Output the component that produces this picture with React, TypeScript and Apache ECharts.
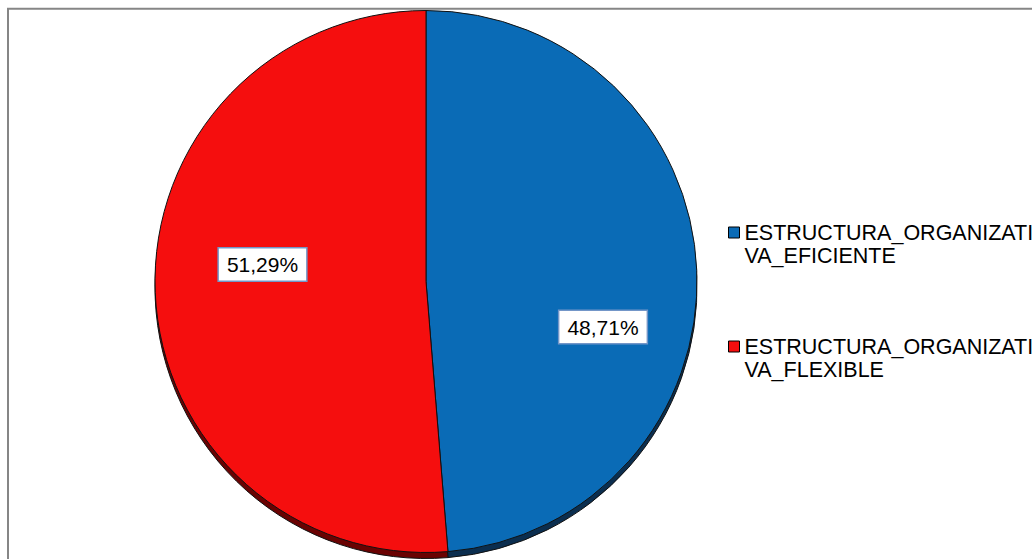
import React, { useEffect, useRef } from "react";
import * as echarts from "echarts";

const categories = ["ESTRUCTURA_ORGANIZATIVA_EFICIENTE", "ESTRUCTURA_ORGANIZATIVA_FLEXIBLE"];
const values = [48.71, 51.29];
const sliceColors = ["#0A6BB6", "#F50E0E"];
const rimColors = ["#0B2E4F", "#6A0202"];
const labelCenters = [
  [603, 327],
  [262.5, 264.5],
];

export default function App() {
  const ref = useRef<HTMLDivElement>(null);
  useEffect(() => {
    if (!ref.current) return;
    const chart = echarts.init(ref.current, undefined, { renderer: "svg" });
    const data = categories.map((name, i) => ({
      name,
      value: values[i],
      itemStyle: { color: sliceColors[i] },
    }));
    const rimData = categories.map((name, i) => ({
      name,
      value: values[i],
      itemStyle: { color: rimColors[i] },
    }));
    chart.setOption({
      animation: false,
      backgroundColor: "#ffffff",
      graphic: [
        {
          type: "rect",
          shape: { x: 8, y: 8.7, width: 2000, height: 2000 },
          style: { fill: "none", stroke: "#868686", lineWidth: 2 },
          silent: true,
          z: 100,
        },
      ],
      legend: {
        orient: "vertical",
        left: 728,
        top: 198,
        padding: 0,
        itemGap: 45,
        itemWidth: 11,
        itemHeight: 11,
        icon: "rect",
        selectedMode: false,
        data: categories,
        itemStyle: { borderColor: "#000000", borderWidth: 1 },
        formatter: (name: string) => "\n" + name.slice(0, 21) + "\n" + name.slice(21),
        textStyle: {
          fontFamily: "'Liberation Sans', Arial, sans-serif",
          fontSize: 21.5,
          lineHeight: 23,
          color: "#000000",
        },
      },
      series: [
        {
          type: "pie",
          name: "main",
          center: [426, 281.5],
          radius: [0, 271],
          startAngle: 90,
          clockwise: true,
          itemStyle: { borderColor: "#111111", borderWidth: 1 },
          emphasis: { disabled: true },
          label: {
            show: true,
            position: "inside",
            formatter: (p: any) => p.value.toFixed(2).replace(".", ",") + "%",
            fontFamily: "'Liberation Sans', Arial, sans-serif",
            fontSize: 21,
            lineHeight: 24,
            color: "#000000",
            backgroundColor: "#ffffff",
            borderColor: "#7396C8",
            borderWidth: 1.5,
            padding: [4, 8, 4, 8],
          },
          labelLine: { show: false },
          labelLayout: (params: any) => ({
            x: labelCenters[params.dataIndex][0],
            y: labelCenters[params.dataIndex][1],
            align: "center",
            verticalAlign: "middle",
          }),
          data,
          z: 2,
        },
        {
          type: "pie",
          name: "rim",
          silent: true,
          center: [426, 287.5],
          radius: [0, 271],
          startAngle: 90,
          clockwise: true,
          label: { show: false },
          labelLine: { show: false },
          itemStyle: { borderColor: "#111111", borderWidth: 1 },
          data: rimData,
          z: 1,
        },
      ],
    });
    return () => chart.dispose();
  }, []);
  return (
    <div
      ref={ref}
      style={{ position: "absolute", left: 0, top: 0, width: 1032, height: 559 }}
    />
  );
}
